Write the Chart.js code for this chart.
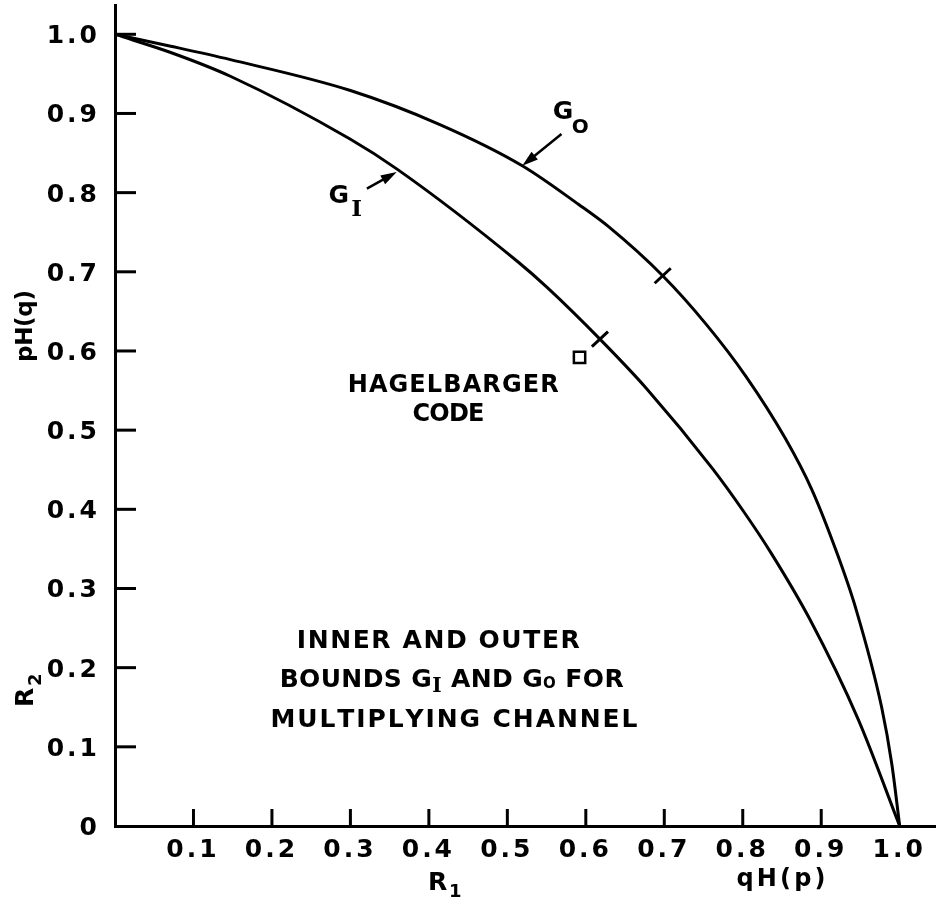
<!DOCTYPE html>
<html>
<head>
<meta charset="utf-8">
<script src="https://cdn.jsdelivr.net/npm/chart.js@4.4.1/dist/chart.umd.min.js"></script>
<style>
html, body { margin: 0; padding: 0; background: #fff; overflow: hidden; }
#wrap { width: 942px; height: 900px; position: relative; }
</style>
</head>
<body>
<div id="wrap"><canvas id="chart"></canvas></div>
<script>
// outer bound G_O
const goX = [0, 0.071, 0.147, 0.300, 0.414, 0.519, 0.591, 0.629, 0.698, 0.754, 0.804, 0.854, 0.888, 0.920, 0.944, 0.977, 0.990, 1.0];
const goY = [1.0, 0.985, 0.968, 0.929, 0.886, 0.834, 0.785, 0.757, 0.695, 0.633, 0.568, 0.490, 0.425, 0.345, 0.275, 0.150, 0.078, 0.0];
// inner bound G_I
const giX = [0, 0.071, 0.147, 0.299, 0.359, 0.513, 0.551, 0.618, 0.677, 0.761, 0.802, 0.836, 0.885, 0.947, 1.0];
const giY = [1.0, 0.977, 0.947, 0.868, 0.830, 0.713, 0.680, 0.615, 0.553, 0.452, 0.396, 0.345, 0.262, 0.135, 0.0];
// cross marks on the curves
const markX = [0.698, 0.618];
const markY = [0.695, 0.615];
// Hagelbarger code point
const hagelX = [0.592];
const hagelY = [0.592];
// axis ticks
const xTicks = [0.1, 0.2, 0.3, 0.4, 0.5, 0.6, 0.7, 0.8, 0.9, 1.0];
const yTicks = [0, 0.1, 0.2, 0.3, 0.4, 0.5, 0.6, 0.7, 0.8, 0.9, 1.0];

const fam = '"DejaVu Sans", sans-serif';
const serif = '"DejaVu Serif", serif';

function pts(xs, ys) {
    return xs.map((x, i) => ({ x: x, y: ys[i] }));
}

function fmt(v) {
    return v === 0 ? '0' : v.toFixed(1);
}

// text spread evenly over a given width; runs = [text, size, dy, family]
function spaced(ctx, runs, cx, base, width) {
    const chars = [];
    runs.forEach(r => {
        for (const ch of r[0]) {
            chars.push({ ch: ch, font: 'bold ' + r[1] + 'px ' + (r[3] || fam), dy: r[2] || 0 });
        }
    });
    let natural = 0;
    chars.forEach(c => {
        ctx.font = c.font;
        c.w = ctx.measureText(c.ch).width;
        natural += c.w;
    });
    const gap = chars.length > 1 ? (width - natural) / (chars.length - 1) : 0;
    let x = cx - width / 2;
    ctx.textAlign = 'left';
    ctx.textBaseline = 'alphabetic';
    chars.forEach(c => {
        ctx.font = c.font;
        ctx.fillText(c.ch, x, base + c.dy);
        x += c.w + gap;
    });
}

// tick label with a little extra letter spacing
function tickWidth(ctx, t) {
    ctx.font = 'bold 25px ' + fam;
    return ctx.measureText(t).width + 3 * (t.length - 1);
}

function arrow(ctx, x1, y1, x2, y2) {
    const a = Math.atan2(y2 - y1, x2 - x1);
    const c = Math.cos(a), s = Math.sin(a);
    ctx.lineWidth = 2.5;
    ctx.beginPath();
    ctx.moveTo(x1, y1);
    ctx.lineTo(x2 - 10 * c, y2 - 10 * s);
    ctx.stroke();
    ctx.beginPath();
    ctx.moveTo(x2, y2);
    ctx.lineTo(x2 - 16 * c + 5 * s, y2 - 16 * s - 5 * c);
    ctx.lineTo(x2 - 16 * c - 5 * s, y2 - 16 * s + 5 * c);
    ctx.closePath();
    ctx.fill();
}

const notes = {
    id: 'notes',
    afterDatasetsDraw(chart) {
        const ctx = chart.ctx;
        const sx = chart.scales.x, sy = chart.scales.y;
        const X = v => sx.getPixelForValue(v);
        const Y = v => sy.getPixelForValue(v);
        const area = chart.chartArea;
        ctx.save();
        ctx.fillStyle = '#000';
        ctx.strokeStyle = '#000';
        ctx.lineCap = 'butt';

        // inward tick marks
        ctx.lineWidth = 3;
        xTicks.filter(v => v < 1).forEach(v => {
            ctx.beginPath();
            ctx.moveTo(X(v), area.bottom);
            ctx.lineTo(X(v), area.bottom - 17);
            ctx.stroke();
        });
        yTicks.filter(v => v > 0).forEach(v => {
            ctx.beginPath();
            ctx.moveTo(area.left, Y(v));
            ctx.lineTo(area.left + 21, Y(v));
            ctx.stroke();
        });

        // tick labels
        xTicks.forEach(v => {
            const t = fmt(v);
            spaced(ctx, [[t, 25]], X(v) - 2, area.bottom + 31, tickWidth(ctx, t));
        });
        yTicks.forEach(v => {
            const t = fmt(v);
            const w = tickWidth(ctx, t);
            spaced(ctx, [[t, 25]], area.left - 18 - w / 2, Y(v) + 9, w);
        });

        // curve labels with arrows
        ctx.font = 'bold 25px ' + fam;
        ctx.textAlign = 'left';
        ctx.fillText('G', X(0.558), Y(0.893));
        ctx.font = 'bold 20px ' + fam;
        ctx.fillText('O', X(0.582), Y(0.875));
        arrow(ctx, X(0.569), Y(0.874), X(0.519), Y(0.834));

        ctx.font = 'bold 25px ' + fam;
        ctx.fillText('G', X(0.272), Y(0.787));
        ctx.font = 'bold 23px ' + serif;
        ctx.fillText('I', X(0.301), Y(0.771));
        arrow(ctx, X(0.321), Y(0.805), X(0.359), Y(0.826));

        // Hagelbarger label
        spaced(ctx, [['HAGELBARGER', 24]], X(0.431), Y(0.548), 211);
        spaced(ctx, [['CODE', 24]], X(0.425), Y(0.512), 72);

        // caption
        spaced(ctx, [['INNER AND OUTER', 25]], X(0.412), Y(0.225), 283);
        spaced(ctx, [['BOUNDS G', 25], ['I', 20, 5, serif], [' AND G', 25], ['O', 15, 1], [' FOR', 25]], X(0.429), Y(0.176), 344);
        spaced(ctx, [['MULTIPLYING CHANNEL', 25]], X(0.432), Y(0.125), 367);

        // axis titles
        ctx.font = 'bold 25px ' + fam;
        ctx.fillText('R', 428, 890);
        ctx.font = 'bold 18px ' + fam;
        ctx.fillText('1', 449, 897);
        spaced(ctx, [['qH(p)', 24]], 781, 886, 89);

        ctx.save();
        ctx.translate(33, 707);
        ctx.rotate(-Math.PI / 2);
        ctx.font = 'bold 25px ' + fam;
        ctx.fillText('R', 0, 0);
        ctx.font = 'bold 18px ' + fam;
        ctx.fillText('2', 21, 8);
        ctx.restore();

        ctx.save();
        ctx.translate(32, 326);
        ctx.rotate(-Math.PI / 2);
        spaced(ctx, [['pH(q)', 23]], 0, 0, 72);
        ctx.restore();

        ctx.restore();
    }
};

new Chart(document.getElementById('chart'), {
    type: 'scatter',
    data: {
        datasets: [{
            label: 'G_O',
            data: pts(goX, goY),
            showLine: true,
            borderColor: '#000',
            borderWidth: 3,
            pointRadius: 0,
            cubicInterpolationMode: 'monotone'
        }, {
            label: 'G_I',
            data: pts(giX, giY),
            showLine: true,
            borderColor: '#000',
            borderWidth: 3,
            pointRadius: 0,
            cubicInterpolationMode: 'monotone'
        }, {
            label: 'marks',
            data: pts(markX, markY),
            pointStyle: 'line',
            pointRotation: -43,
            pointRadius: 11,
            borderColor: '#000',
            borderWidth: 3
        }, {
            label: 'Hagelbarger code',
            data: pts(hagelX, hagelY),
            pointStyle: 'rect',
            pointRadius: 8,
            backgroundColor: '#fff',
            borderColor: '#000',
            borderWidth: 2.5
        }]
    },
    options: {
        responsive: true,
        maintainAspectRatio: false,
        animation: false,
        layout: { autoPadding: false, padding: { top: 5, right: 7, left: 0, bottom: 0 } },
        plugins: {
            legend: { display: false },
            tooltip: { enabled: false }
        },
        scales: {
            x: {
                type: 'linear',
                min: 0,
                max: 1.045,
                afterBuildTicks: s => { s.ticks = xTicks.map(v => ({ value: v })); },
                afterFit: s => { s.height = 74; },
                ticks: { display: false },
                grid: { display: false, drawTicks: false },
                border: { display: true, color: '#000', width: 3 }
            },
            y: {
                type: 'linear',
                min: 0,
                max: 1.037,
                afterBuildTicks: s => { s.ticks = yTicks.map(v => ({ value: v })); },
                afterFit: s => { s.width = 115; },
                ticks: { display: false },
                grid: { display: false, drawTicks: false },
                border: { display: true, color: '#000', width: 3 }
            }
        }
    },
    plugins: [notes]
});
</script>
</body>
</html>
